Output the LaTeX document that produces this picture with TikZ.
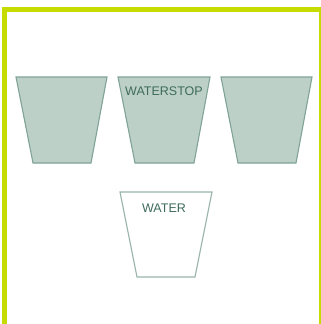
\documentclass[tikz,border=0pt]{standalone}
\usepackage{fontspec}
\setmainfont{Liberation Sans}
\usepackage{tikz}
\usetikzlibrary{positioning}
\definecolor{FrameLime}{HTML}{C6DC00}
\definecolor{StopFill}{HTML}{BDD0C8}
\definecolor{StopLine}{HTML}{7FA396}
\definecolor{LabelGreen}{HTML}{3D6B5C}
\definecolor{White}{HTML}{FFFFFF}

\begin{document}
\begin{tikzpicture}[x=1pt, y=-1pt]
\useasboundingbox (0,0) rectangle (321,324);
\clip (0,0) rectangle (321,324);
\draw[FrameLime, line width=5pt] (4.7,9.5) rectangle (321.5,330);

\draw[
    draw=StopLine,
    fill=StopFill,
    line width=1.1pt
] (16,77) -- (107,77) -- (91,163) -- (33,163) -- cycle;

\draw[
    draw=StopLine,
    fill=StopFill,
    line width=1.1pt
] (118,77) -- (210,77) -- (194,163) -- (135,163) -- cycle;

\draw[
    draw=StopLine,
    fill=StopFill,
    line width=1.1pt
] (221,77) -- (312,77) -- (296,163) -- (238,163) -- cycle;

\draw[
    draw=StopLine!80,
    fill=White,
    line width=1.1pt
] (120,192) -- (212,192) -- (195,277) -- (137,277) -- cycle;

\node[inner sep=0pt] (stoplabel) at (164,91.5)
    {\fontsize{12.5}{14}\selectfont\color{LabelGreen}WATERSTOP};
\node[inner sep=0pt] (waterlabel) at (164,208)
    {\fontsize{12.5}{14}\selectfont\color{LabelGreen}WATER};
\end{tikzpicture}
\end{document}
